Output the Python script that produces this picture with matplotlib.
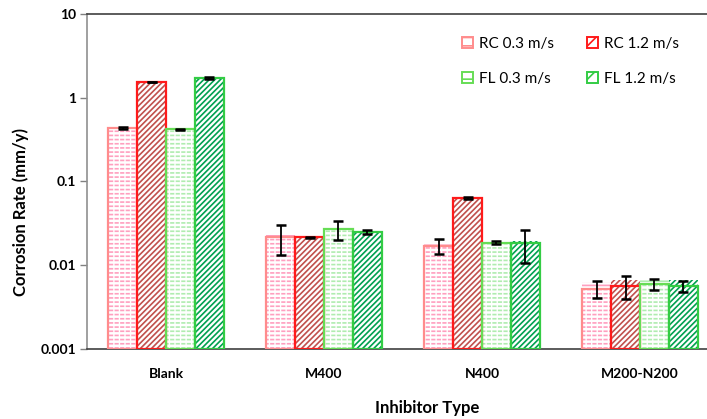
import matplotlib
matplotlib.use('Agg')
import matplotlib.pyplot as plt
import numpy as np

plt.rcParams['font.family'] = ['Lato', 'DejaVu Sans']
plt.rcParams['hatch.linewidth'] = 1.2

categories = ['Blank', 'M400', 'N400', 'M200-N200']
series_names = ['RC 0.3 m/s', 'RC 1.2 m/s', 'FL 0.3 m/s', 'FL 1.2 m/s']

# corrosion rates (mm/y)
rc_03 = [0.435, 0.0219, 0.0171, 0.00525]
rc_12 = [1.54, 0.0216, 0.0635, 0.0057]
fl_03 = [0.42, 0.0269, 0.0186, 0.00597]
fl_12 = [1.72, 0.0249, 0.0183, 0.0057]

# error bars (+/-)
rc_03_err = [0.01, 0.0085, 0.0034, 0.0012]
rc_12_err = [0.0, 0.0003, 0.0025, 0.0017]
fl_03_err = [0.008, 0.0067, 0.0009, 0.0009]
fl_12_err = [0.025, 0.0013, 0.0078, 0.00085]

values = [rc_03, rc_12, fl_03, fl_12]
errors = [rc_03_err, rc_12_err, fl_03_err, fl_12_err]
edge_colors = ['#ff8c8c', '#ff1a1a', '#66dd55', '#33cc44']
hatch_colors = ['#ff9fbf', '#c0504d', '#b0ecb0', '#00a050']
hatches = ['----', '//////', '----', '//////']
dashed = [True, False, True, False]

fig = plt.figure(figsize=(7.07, 4.19), dpi=100)
ax = fig.add_axes([87 / 707, 1 - 349 / 419, 632 / 707, 335 / 419])

x = np.arange(len(categories))
width = 0.1835

handles = []
for i in range(4):
    pos = x + (i - 1.5) * width
    ax.bar(pos, values[i], width, bottom=0.001, color='white',
           edgecolor=hatch_colors[i], hatch=hatches[i], linewidth=0, zorder=2)
    if dashed[i]:
        # white vertical hatch cuts the horizontal lines into short dashes
        with plt.rc_context({'hatch.linewidth': 1.0}):
            ax.bar(pos, np.array(values[i]) - 0.001, width, bottom=0.001,
                   fill=False, edgecolor='white', hatch='|||', linewidth=0,
                   zorder=2.5)
    # outline drawn separately so hatch and edge can differ in colour
    ax.bar(pos, np.array(values[i]) - 0.001, width, bottom=0.001, fill=False,
           edgecolor=edge_colors[i], linewidth=1.6, zorder=3)
    ax.errorbar(pos, values[i], yerr=errors[i], fmt='none', ecolor='black',
                elinewidth=1.3, capsize=3.5, capthick=1.8, zorder=4)
    h = plt.Rectangle((0, 0), 1, 1, facecolor='white', edgecolor=edge_colors[i],
                      hatch=hatches[i][:2], linewidth=1.4)
    handles.append(h)

ax.set_yscale('log')
ax.set_ylim(0.001, 10)
ax.set_xlim(-0.5, 3.5)
ax.set_yticks([0.001, 0.01, 0.1, 1, 10])
ax.set_yticklabels(['0.001', '0.01', '0.1', '1', '10'], fontsize=10, fontweight='bold')
ax.minorticks_off()
ax.set_xticks(x)
ax.set_xticklabels(categories, fontsize=10, fontweight='bold')
ax.tick_params(axis='x', length=0, pad=14)
ax.tick_params(axis='y', length=5, width=1, color='#808080', pad=3)

ax.spines['right'].set_visible(False)
ax.spines['left'].set_color('#909090')
ax.spines['bottom'].set_color('#404040')
ax.spines['top'].set_color('#404040')
for s in ['left', 'bottom', 'top']:
    ax.spines[s].set_linewidth(1.2)

fig.text(21 / 707, 1 - 212 / 419, 'Corrosion Rate (mm/y)', rotation=90,
         ha='center', va='center', fontsize=12, fontweight='bold')
fig.text(427 / 707, 1 - 408 / 419, 'Inhibitor Type', ha='center', va='center',
         fontsize=12, fontweight='bold')

order = [0, 2, 1, 3]
ax.legend([handles[k] for k in order], [series_names[k] for k in order],
          ncol=2, frameon=False, loc='upper left',
          bbox_to_anchor=(462 / 707, 1 - 37 / 419), bbox_transform=fig.transFigure,
          fontsize=11, handlelength=0.7, handleheight=0.7, handletextpad=0.4,
          columnspacing=2.2, labelspacing=1.35, borderpad=0, borderaxespad=0)

fig.savefig('out.png', dpi=100)
plt.close(fig)
